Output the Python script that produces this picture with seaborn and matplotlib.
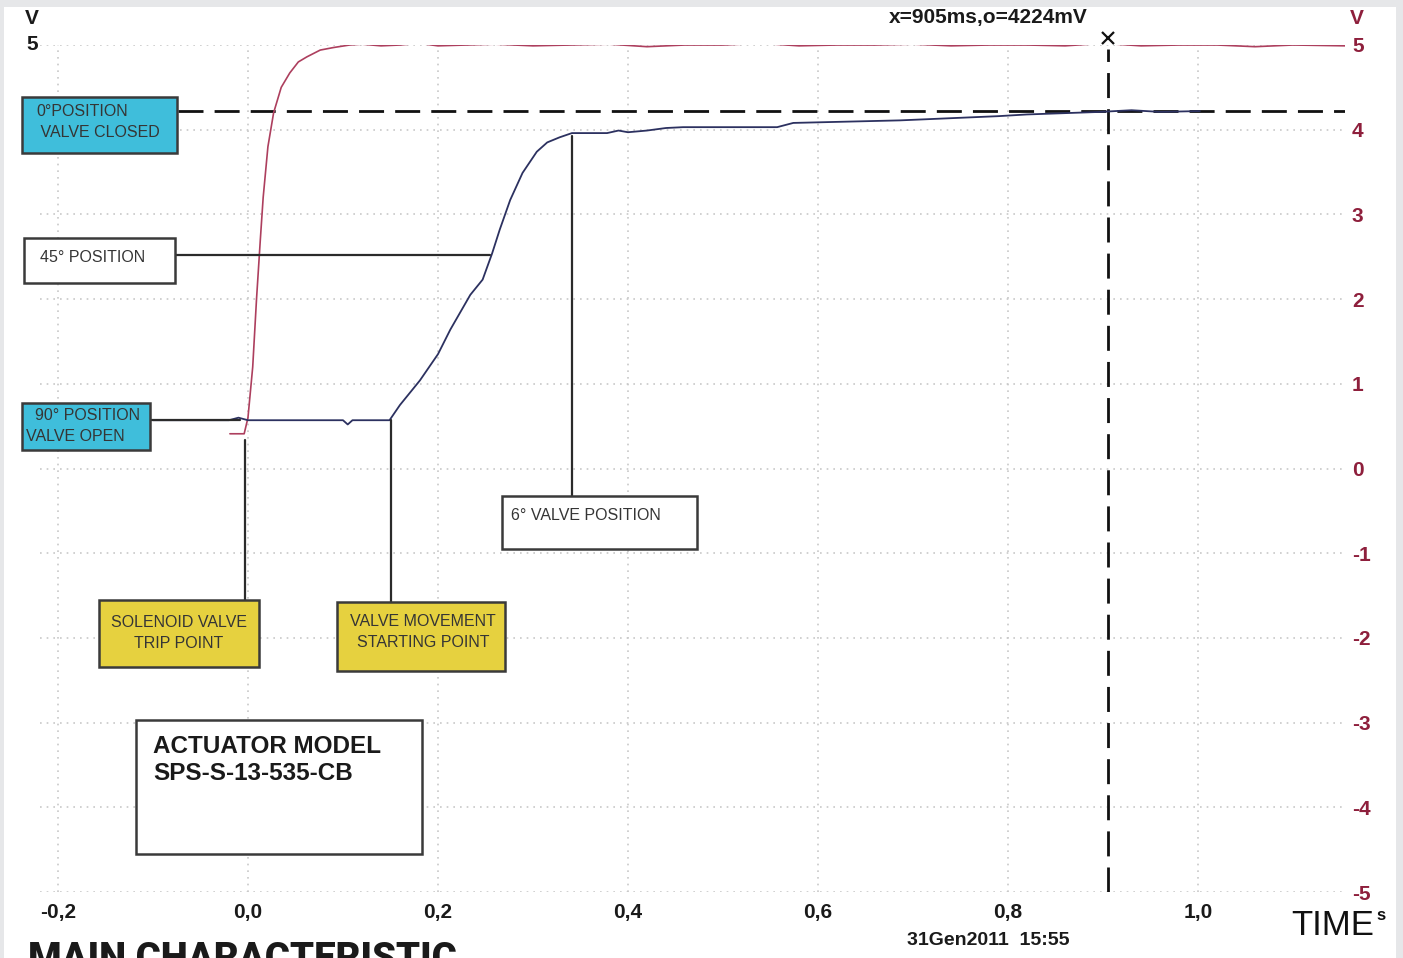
import numpy as np
import pandas as pd
import seaborn as sns
import matplotlib.pyplot as plt
from matplotlib.patches import Rectangle
from matplotlib.transforms import Affine2D

# ---------------- DATA ------------------
# solenoid command signal (red trace)
red_t = [-0.019, -0.004, 0.0, 0.005, 0.009, 0.013, 0.016, 0.021, 0.027, 0.035,
         0.044, 0.053, 0.062, 0.076, 0.09, 0.107, 0.12, 0.14, 0.16, 0.18, 0.2,
         0.23, 0.26, 0.3, 0.34, 0.38, 0.42, 0.46, 0.5, 0.54, 0.58, 0.62, 0.66,
         0.7, 0.74, 0.78, 0.82, 0.86, 0.9, 0.94, 0.98, 1.02, 1.06, 1.1, 1.155]
red_v = [0.41, 0.41, 0.6, 1.2, 2.0, 2.7, 3.2, 3.8, 4.2, 4.5,
         4.67, 4.8, 4.86, 4.94, 4.97, 5.0, 5.01, 4.99, 5.0, 5.02, 4.99,
         5.0, 5.01, 4.99, 5.0, 5.01, 4.98, 5.0, 5.0, 5.02, 4.99, 5.0, 5.0,
         5.01, 4.99, 5.0, 5.0, 4.99, 5.02, 4.99, 5.0, 5.0, 4.98, 5.0, 4.99]

# valve position feedback (blue trace)
blue_t = [-0.10, -0.02, -0.01, 0.0, 0.10, 0.105, 0.11, 0.149, 0.16, 0.181,
          0.2, 0.213, 0.234, 0.247, 0.257, 0.265, 0.276, 0.289, 0.304, 0.315,
          0.328, 0.341, 0.378, 0.39, 0.4, 0.42, 0.44, 0.458, 0.557, 0.574,
          0.686, 0.79, 0.82, 0.897, 0.93, 0.96, 1.002]
blue_v = [0.57, 0.57, 0.60, 0.57, 0.57, 0.52, 0.57, 0.57, 0.75, 1.04,
          1.35, 1.64, 2.05, 2.23, 2.54, 2.82, 3.17, 3.49, 3.74, 3.85,
          3.91, 3.96, 3.96, 3.99, 3.97, 3.99, 4.02, 4.03, 4.03, 4.08,
          4.11, 4.16, 4.18, 4.21, 4.23, 4.21, 4.22]

x_ticks = [-0.2, 0.0, 0.2, 0.4, 0.6, 0.8, 1.0]
x_labels = ["-0,2", "0,0", "0,2", "0,4", "0,6", "0,8", "1,0"]
y_ticks = [5, 4, 3, 2, 1, 0, -1, -2, -3, -4, -5]
y_labels = ["5", "4", "3", "2", "1", "0", "-1", "-2", "-3", "-4", "-5"]

cursor_t = 0.905
cursor_v = 4.224

# ---------------- STYLE ------------------
W, H = 1403, 958
SCOPE = ["Liberation Sans", "DejaVu Sans"]
ARIAL = ["Liberation Sans", "DejaVu Sans"]
RED = "#ad3f5e"
BLUE = "#2c3160"
LABEL_RED = "#8e1f3c"
CYAN = "#3fbedb"
YELLOW = "#e6d13f"
EDGE = "#3a3a3a"

sns.set_style("white")
plt.rcParams["font.family"] = SCOPE

fig = plt.figure(figsize=(W / 100, H / 100), dpi=100)
fig.patch.set_facecolor("#e6e7e9")
px = Affine2D().scale(1 / W, -1 / H).translate(0, 1) + fig.transFigure
fig.patches.append(Rectangle((4, 7), 1392, 960, transform=px, facecolor="white",
                             edgecolor="none", zorder=-5))

# plot area: x 40..1345 px, y 45..892 px
ax = fig.add_axes([40 / W, (H - 892) / H, 1305 / W, 847 / H])
ax.set_facecolor("none")
ax.set_xlim(-0.2189, 1.1547)
ax.set_ylim(-5, 5)
for s in ax.spines.values():
    s.set_visible(False)
ax.grid(True, linestyle=(0, (1, 3)), color="#c8c8c8", linewidth=1.2)

ax.set_xticks(x_ticks)
ax.set_xticklabels(x_labels)
ax.set_yticks(y_ticks)
ax.set_yticklabels(y_labels)
ax.yaxis.tick_right()
ax.tick_params(axis="x", length=0, pad=8, labelsize=15, labelcolor="#1a1a1a")
ax.tick_params(axis="y", length=0, pad=5, labelsize=15, labelcolor=LABEL_RED)
for lab in ax.get_xticklabels() + ax.get_yticklabels():
    lab.set_fontweight("bold")
ax.set_xlabel("")
ax.set_ylabel("")

# traces
sns.lineplot(x=red_t, y=red_v, ax=ax, color=RED, linewidth=1.2, sort=False,
             estimator=None, zorder=4)
sns.lineplot(x=blue_t, y=blue_v, ax=ax, color=BLUE, linewidth=1.3, sort=False,
             estimator=None, zorder=4)

# cursor
ax.plot([cursor_t, cursor_t], [-5, 4.95], color="#111111", linewidth=2,
        linestyle=(0, (9, 4)), zorder=3)
ax.plot([-0.074, 1.1547], [cursor_v, cursor_v], color="#111111", linewidth=2,
        linestyle=(0, (9, 4)), zorder=3)
ax.plot([cursor_t], [5.08], marker="x", color="#111111", markersize=8,
        markeredgewidth=1.6, clip_on=False, zorder=5)

# ---------------- ANNOTATIONS (pixel coords) ------------------
def box(x0, y0, x1, y1, fc):
    fig.patches.append(Rectangle((x0, y0), x1 - x0, y1 - y0, transform=px,
                                 facecolor=fc, edgecolor=EDGE, linewidth=1.8,
                                 zorder=6))

def line(xs, ys):
    fig.lines.append(plt.Line2D(xs, ys, transform=px, color="#2b2b2b",
                                linewidth=1.6, zorder=5))

def label(x, y, s, ha="left", size=11.5, weight="normal", color="#353535",
          spacing=1.5):
    fig.text(x, y, s, transform=px, ha=ha, va="center", fontsize=size,
             fontweight=weight, color=color, family=ARIAL, zorder=7,
             linespacing=spacing)

line([175, 490], [255, 255])
line([150, 240], [420, 420])
line([572, 572], [496, 136])
line([245, 245], [600, 440])
line([391, 391], [602, 420])

box(22, 97, 177, 153, CYAN)
label(36, 122, "0°POSITION\n VALVE CLOSED")
box(24, 238, 175, 283, "white")
label(40, 257, "45° POSITION")
box(22, 403, 150, 450, CYAN)
label(26, 426, "  90° POSITION\nVALVE OPEN")
box(502, 496, 697, 549, "white")
label(511, 516, "6° VALVE POSITION")
box(99, 600, 259, 667, YELLOW)
label(179, 633, "SOLENOID VALVE\nTRIP POINT", ha="center")
box(337, 602, 505, 671, YELLOW)
label(423, 632, "VALVE MOVEMENT\nSTARTING POINT", ha="center")
box(136, 720, 422, 854, "white")
label(153, 760, "ACTUATOR MODEL\nSPS-S-13-535-CB", size=17.5, weight="bold",
      color="#1a1a1a", spacing=1.25)

# scope texts
fig.text(32, 18, "V", transform=px, ha="center", va="center", fontsize=15,
         fontweight="bold", color="#1a1a1a")
fig.text(32, 44, "5", transform=px, ha="center", va="center", fontsize=15,
         fontweight="bold", color="#1a1a1a")
fig.text(1357, 18, "V", transform=px, ha="center", va="center", fontsize=15,
         fontweight="bold", color=LABEL_RED)
fig.text(988, 18, "x=905ms,o=4224mV", transform=px, ha="center", va="center",
         fontsize=15, fontweight="bold", color="#1a1a1a")
fig.text(988, 941, "31Gen2011  15:55", transform=px, ha="center", va="center",
         fontsize=14, fontweight="bold", color="#1a1a1a")
fig.text(1333, 926, "TIME", transform=px, ha="center", va="center",
         fontsize=25, color="#111111")
fig.text(1381, 916, "s", transform=px, ha="center", va="center",
         fontsize=12, fontweight="bold", color="#111111")
# heading of the next section, cut by the bottom edge as in the source
fig.text(28, 970, "MAIN CHARACTERISTIC", transform=px, ha="left",
         va="baseline", fontsize=27.5, fontweight="black", color="#1a1a1a",
         family=["Roboto", "DejaVu Sans"])

fig.savefig("out.png", dpi=100, facecolor=fig.get_facecolor())
